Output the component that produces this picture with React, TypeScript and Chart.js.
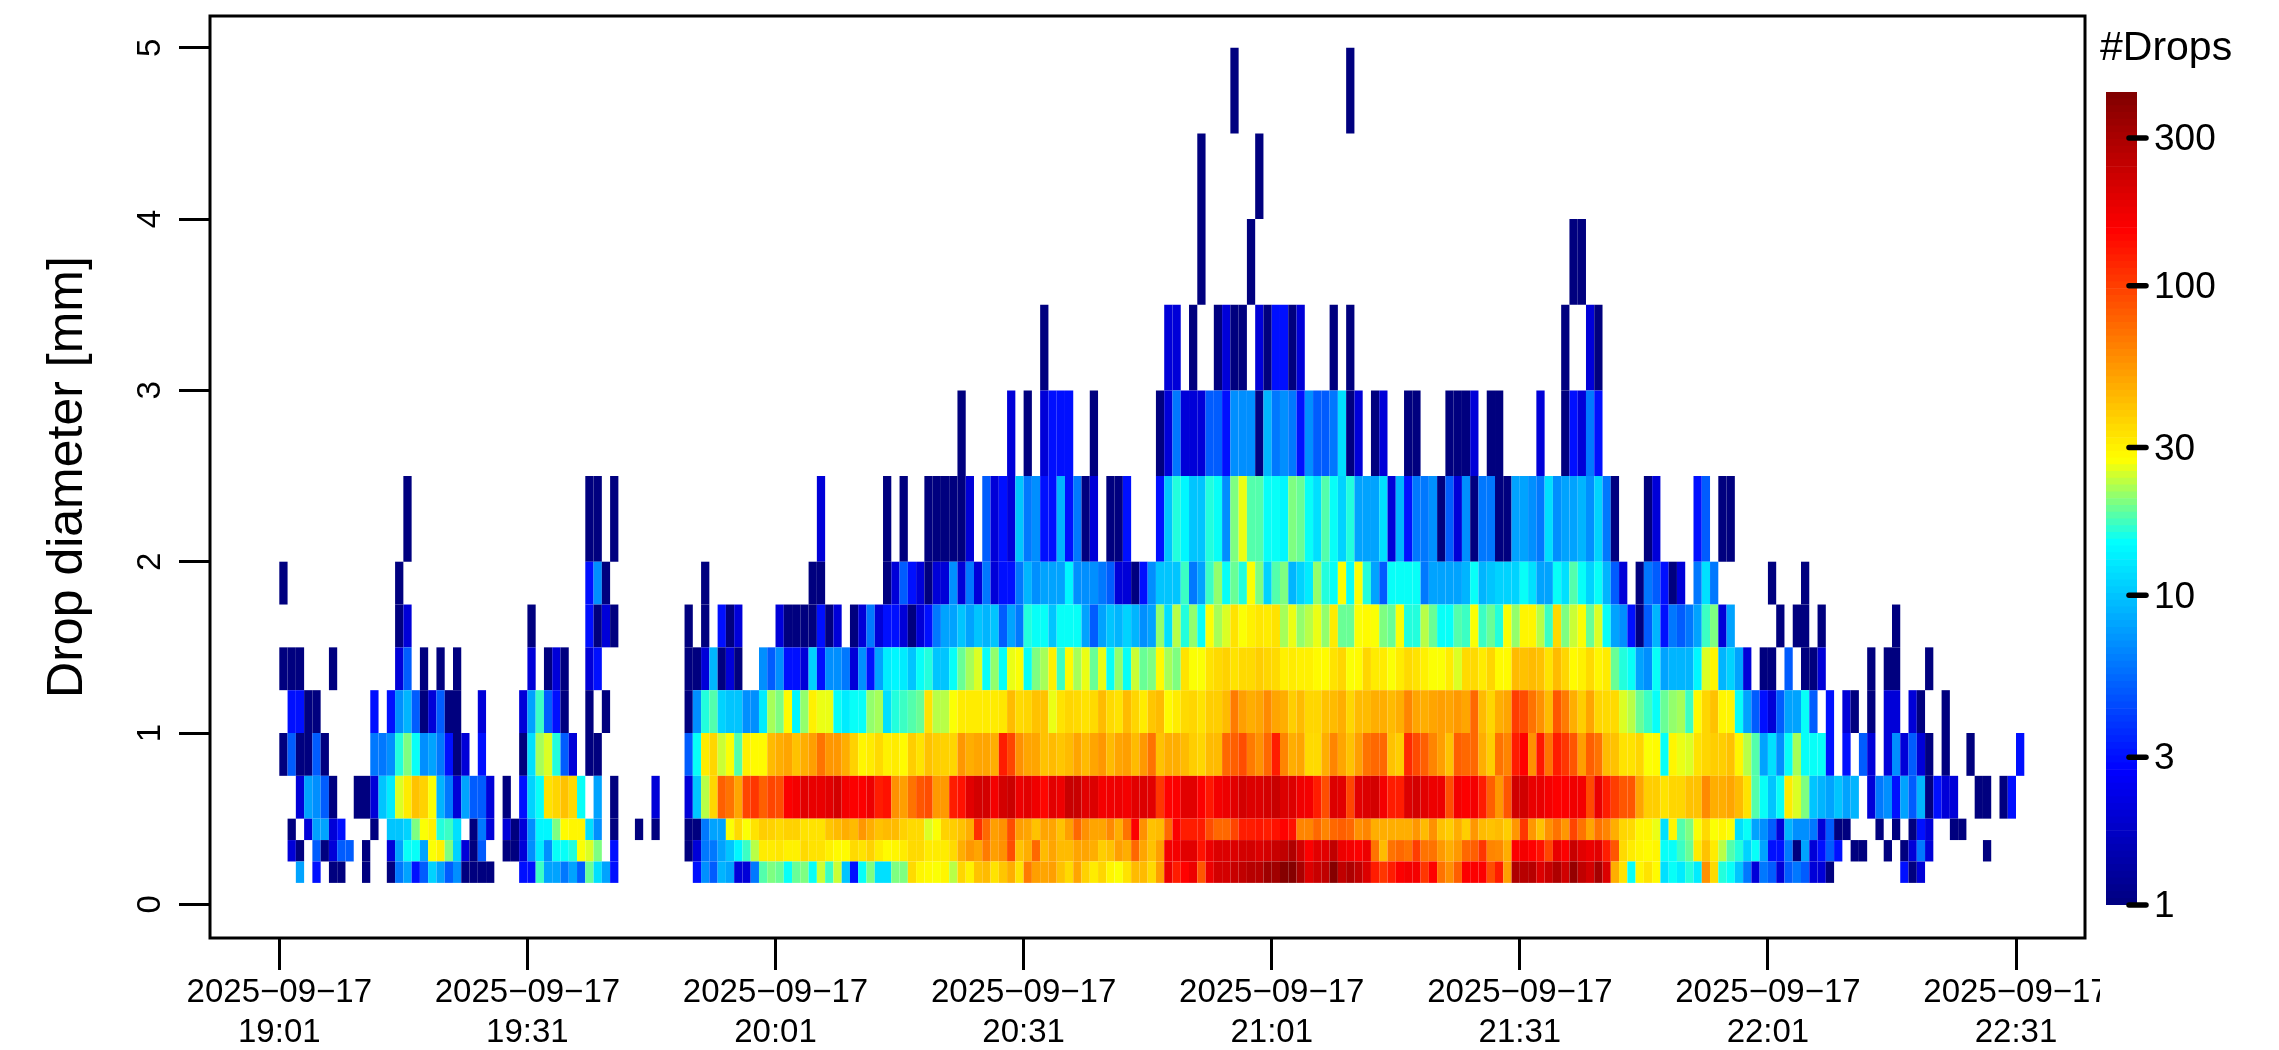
import React, { useEffect, useRef } from "react";
import { Chart, registerables } from "chart.js";

Chart.register(...registerables);

// Each run is [first minute index after 19:01, count, count, ...]
const d0125 = [[2,8],[4,3],[6,1,1],[10,1],[13,1,6,8,3,5,11,8,5,7,1,1,1,1],[29,3,3,17,8,8,6,8,5,19,12,8,3],
  [50,3,7,5,9,8,2,2,6,18,20,19,15,19,20,15,24,17,24,10,3,15,20,12,12,20,20,35,29,28,27,29,23,36,30,41,43,33,40,47,33,66,52,50,52,41,35,50,37,31],
  [99,36,29,27,33,43,43,35,52,175,125,150,175,85,175,215,215,235,250,270,270,330,320,400,400,300,200,235,250,400,250,290,250,200,125,105,125,155,165,165,105,150,70,58,80,155,155,155,90,125,52,290],
  [150,270,270,200,235,290,220,350,250,215,310,200,47,33,15,29,33,28,12,15,13,16,13],
  [172,57,35,16,15,10,6,2,6,5,2,5,6,5,2,2,1],[196,3,1,2]];
const d0250 = [[1,2,1],[4,5,1,2,5,5],[10,1],[13,2,8,15,15,8,27,30,20,11,2,1,5],[27,1,1,2,7,13,7,15,15,16,27,25,20],[40,3],
  [49,1,2,6,6,8,10,14,17,23,31,31,32,30,30,35,33,33,30,28,28,35,33,37,31,28,29,31,35,35,31,31,31,35,47,55,50,66,52,57,90,41,47,75,43,50,43,43,50,50,47],
  [99,38,41,52,47,75,50,41,52,165,165,190,190,135,175,200,200,200,215,215,200,215,235,250,285,215,155,190,190,250,175,165,155,175,70,43,70,75,70,100,70,70,54,47,54,75,80,105,62,60,47,155],
  [150,165,150,135,95,180,155,235,190,175,190,125,85,35,31,29,28,29,15,15,17,19,31],
  [172,41,31,23,18,16,11,15,8,3,3,6,1,8,2,3,5,3],[190,1,1],[194,1],[196,1,2,6,2],[206,1]];
const d0375 = [[1,1],[3,2,8,8,2,3],[11,1],[13,10,10,11,20,27,30,16,17,12],[23,1,6,2],[27,2,1,2,7,14,14,20,28,29,29,12,7],[40,1],[43,1],[45,1],
  [49,1,1,6,8,8,27,35,27,33,38,37,35,37,37,33,33,33,40,43,47,43,55,47,41,43,43,37,35,35,25,27,37,38,41,47,110,75,52,57,90,52,50,41,50,50,41,52,75,57,50],
  [99,50,60,47,70,155,57,41,43,75,155,125,125,125,90,75,75,95,125,125,130,125,135,150,135,62,62,75,62,75,80,75,57,62,47,47,47,47,47,55,43,57,41,38,47,38,55,43,41,43,38,55],
  [150,105,55,41,57,70,55,95,70,50,70,62,47,36,35,29,29,26,12,29,18,20,27],
  [172,35,27,29,27,12,15,8,7,5,2,9,7,7,6,2,5,1,1],[193,1],[195,1],[197,1,3,2],[202,1,1]];
const d0500 = [[2,2,8,7,5,1],[9,1,1,2,10,13,25,31,41,37,27,9,6,2,8,5,5,2],[27,1],[29,3,11,15,33,36,41,35,15],[38,8],[40,1],[45,2],
  [49,2,10,23,36,80,70,50,95,105,80,95,90,155,165,190,180,180,190,215,165,155,155,175,125,135,57,52,70,85,90,54,54,125,135,190,215,215,165,215,230,175,190,170,145,190,175,235,235,190,200],
  [99,165,170,175,165,190,200,190,105,150,155,190,190,155,130,165,175,190,215,200,200,215,235,200,200,170,165,125,90,200,190,95,190,200,215,165,125,125,200,215,190,175,175,90,165,155,165,125,80,55,85,220],
  [150,220,180,180,165,155,155,170,165,92,180,125,100,85,85,50,38,38,33,36,36,41,41],
  [172,60,47,47,50,43,33,18,15,10,15,31,25,20,10,9,8,10,8,9],[192,2,6,7,3,8,5,9,1,3,2,2],[205,1,1],[208,1,3]];
const d0750 = [[0,1,5,1,1,5,1],[11,6,6,7,16,20,15,7,8,6,3,1,2],[24,3],[29,1,12,22,25,16,5,2],[37,1,1],
  [49,5,15,31,36,24,27,18,30,28,28,43,47,50,41,47,52,70,55,55,47,37,29,31,35,30,31,28,38,33,41,38,37,36,55,47,50,50,47,125,95,57,50,50,41,43,40,43,50,43,50],
  [99,55,43,50,52,43,54,70,41,47,47,43,38,36,43,43,75,80,90,66,57,75,125,62,47,50,35,35,47,62,50,41,52,70,75,75,41,38,115,92,80,62,52,41,80,75,75,47,38,70,62,125],
  [150,150,57,130,70,125,105,85,52,80,70,43,41,33,33,36,27,28,15,29,26,25,33],
  [172,36,38,38,41,29,23,18,8,12,7,15,22,15,15,15,3],[189,3],[191,5,2],[194,2,7,2,5,2,1],[201,1],[204,1],[210,3]];
const d1000 = [[1,3,3,1,1],[11,3],[13,3,7,9,5,1,2,5,1,1],[24,2],[29,2,8,17,5,3,1],[37,1],[39,1],
  [49,1,7,16,18,11,10,10,7,7,13,22,20,28,14,21,30,26,26,15,13,15,15,21,22,12,16,17,18,19,33,23,23,27,31,31,31,31,31,32,43,35,36,41,41,26,33,36,35,33,35],
  [99,43,35,33,43,36,31,40,43,28,31,35,36,33,38,38,43,66,52,47,50,60,50,47,38,43,36,36,41,43,47,36,43,43,47,47,43,47,62,50,47,50,52,50,54,50,75,43,36,47,50,100],
  [150,90,70,57,43,85,66,47,38,50,36,35,35,25,23,19,17,15,19,21,22,17,28],
  [172,36,41,29,29,15,8,5,3,2,5,8,8,15,5],[187,3],[189,2,1],[192,1],[194,2,2],[197,2,1],[201,1]];
const d1250 = [[0,1,1,1],[6,1],[14,2,5],[17,1],[19,1],[21,1],[30,2],[32,1,2,1],[37,2,3],
  [49,1,1,2,9,1,2,1],
  [58,7,5,7,3,3,2,11,3,7,7,6,2,7,3,8,13,14,13,10,15,16,10,10,15,19,22,25,15,21,15,26,27,15,20,22,30,17,28,22,26,19],
  [99,26,15,21,15,24,19,20,28,22,20,33,27,27,33,35,37,33,35,35,38,36,35,30,31,30,30,28,28,33,36,27,28,36,31,31,27,31,35,33,30,27,27,31,25,35,35,31,36,28,28,43],
  [150,41,43,41,33,43,36,28,30,35,29,31,19,16,15,8,7,15,8,9,9,9,14],
  [172,25,29,9,11,8,2],[179,1,1],[182,5],[184,1,1,2],[192,1],[194,1,1],[199,1]];
const d1500 = [[14,1,2],[30,1],[37,3,1,2,1],[49,1],[51,1],[53,3,1,2],[60,2,1,1,1,1,3,1,2],
  [69,1,2,6,2,3,3,2,1,2,3,6,8,8,10,8,10,9,10,5,8,6,16,15,15,10,15,15,15,8,5],
  [99,8,10,9,11,9,7,8,21,12,23,16,21,15,27,22,25,33,27,30,32,31,33,22,26,21,23,26,21,31,19,19,27,28,27,20,19,27,16,16,23,19,15,15,18,17,27,17,19,16,27,21],
  [150,29,29,23,17,35,20,24,27,19,25,15,8,7,3,1,5,9,3,6,5,6,8],
  [172,17,20,2,8],[181,1],[183,1,1],[186,1],[195,1]];
const d1750 = [[0,1],[14,1],[37,3,7,1],[51,1],[64,1,1],
  [73,1,2,5,3,2,1,2,2,7,2,6,2,6,2,3,3,6,9,7,8,8,8,14,7,7,7],
  [99,6,5,2,2,1,3,7,10,10,10,17,6,8,17,21,15,19,16,27,20,11,18,20,9,11,13,21,16,15,27,15,27,16,8,5,15,15,15,15,6,8,8,8,8,9,15,9,10,11,11,11],
  [150,15,12,8,8,15,12,18,15,11,15,9,5,2],[164,1,6,5,3,1,2],[171,6,12,6],[180,1],[184,1]];
const d2000 = [[15,1],[37,1,1],[40,1],[65,2],[73,1],[75,1],[78,1,1,1,1,1,2],[85,5,2,3,2,10,6,7,3,3,9,3,6,1,2],[100,1,1,3],
  [106,3,10,16,14,10,10,16,15,7,20,26,18,18,15,15,14,20,19,15,12,18,15,11,16,8,8,8,12,2,9,3,6,6,7,1,5,2,7,1,6,6,1,1,8],
  [150,8,7,6,12,7,8,8,9,7,11,6,1],[165,1,2],[171,3,5],[174,1,1]];
const d2500 = [[82,1],[88,2],[90,1],[92,2,3,3,3],[98,1],
  [106,1,2,6,2,2,2,5,5,3,7,7,7,1,9,6,7,6,3,7,5,5,6,12,1,2],[132,1,2],[136,1,1],[141,1,1,1,2],[146,1,1],[152,2],[155,1,3,2,6,3]];
const d3000 = [[92,1],[107,2,2],[110,1],[113,1,2,1,1],[118,2,1,3,3,1,2],[127,1],[129,1],[155,1],[158,2,1]];
const d3500 = [[111,1],[117,1],[156,1,1]];
const d4000 = [[111,1],[118,1]];
const d4500 = [[115,1],[129,1]];

const binRuns = [d0125, d0250, d0375, d0500, d0750, d1000, d1250, d1500, d1750, d2000, d2500, d3000, d3500, d4000, d4500];
const binEdges = [0.125, 0.25, 0.375, 0.5, 0.75, 1, 1.25, 1.5, 1.75, 2, 2.5, 3, 3.5, 4, 4.5, 5];

const xTickMinutes = [0, 30, 60, 90, 120, 150, 180, 210];
const xTickDate = "2025\u221209\u221217";
const xTickTimes = ["19:01", "19:31", "20:01", "20:31", "21:01", "21:31", "22:01", "22:31"];
const yTicks = [0, 1, 2, 3, 4, 5];
const barTicks = [1, 3, 10, 30, 100, 300];
const maxDrops = 422;
const barTitle = "#Drops";

const FONT = "'Liberation Sans', Arial, sans-serif";
const stops: [number, number[]][] = [
  [0, [0, 0, 127]],
  [0.165, [0, 0, 255]],
  [0.445, [0, 255, 255]],
  [0.547, [255, 255, 0]],
  [0.83, [255, 0, 0]],
  [1, [127, 0, 0]],
];
function colorOf(v: number) {
  const f = Math.min(1, Math.max(0, Math.log10(v) / Math.log10(maxDrops)));
  for (let i = 1; i < stops.length; i++) {
    if (f <= stops[i][0]) {
      const [a, ca] = stops[i - 1];
      const [b, cb] = stops[i];
      const t = (f - a) / (b - a);
      const c = ca.map((q, k) => Math.round(q + (cb[k] - q) * t));
      return `rgb(${c[0]},${c[1]},${c[2]})`;
    }
  }
  return "rgb(127,0,0)";
}

const framePlugin = {
  id: "frame",
  afterDraw(chart: any) {
    const { ctx, chartArea: a } = chart;
    ctx.save();
    ctx.strokeStyle = "#000";
    ctx.lineWidth = 3;
    ctx.strokeRect(a.left, a.top, a.right - a.left, a.bottom - a.top);
    ctx.restore();
  },
};

const barTickPlugin = {
  id: "barTicks",
  afterDraw(chart: any) {
    const { ctx, chartArea: a, scales } = chart;
    ctx.save();
    ctx.strokeStyle = "#000";
    ctx.lineWidth = 5.5;
    ctx.lineCap = "round";
    for (const v of barTicks) {
      const y = scales.y.getPixelForValue(v);
      ctx.beginPath();
      ctx.moveTo(a.right - 8, y);
      ctx.lineTo(a.right + 9, y);
      ctx.stroke();
    }
    ctx.fillStyle = "#000";
    ctx.font = `41px ${FONT}`;
    ctx.textAlign = "left";
    ctx.textBaseline = "alphabetic";
    ctx.fillText(barTitle, 0, 60);
    ctx.restore();
  },
};

export default function App() {
  const mainRef = useRef<HTMLCanvasElement>(null);
  const barRef = useRef<HTMLCanvasElement>(null);

  useEffect(() => {
    const datasets = binRuns.map((runs, b) => {
      const data: any[] = [];
      for (const run of runs) {
        for (let k = 1; k < run.length; k++) {
          data.push({ x: run[0] + k - 1 + 0.5, y: [binEdges[b], binEdges[b + 1]], c: run[k] });
        }
      }
      return {
        data,
        grouped: false,
        barThickness: 8.27,
        inflateAmount: 0,
        borderWidth: 0,
        backgroundColor: (ctx: any) => colorOf(ctx.raw ? ctx.raw.c : 1),
      };
    });

    const main = new Chart(mainRef.current!, {
      type: "bar",
      data: { datasets } as any,
      plugins: [framePlugin],
      options: {
        responsive: false,
        animation: false,
        devicePixelRatio: 1,
        layout: { padding: { left: 0, top: 16, right: 15, bottom: 0 } },
        plugins: { legend: { display: false }, tooltip: { enabled: false } },
        scales: {
          x: {
            type: "linear",
            offset: false,
            min: -8.38,
            max: 218.34,
            afterBuildTicks: (s: any) => { s.ticks = xTickMinutes.map((value) => ({ value })); },
            afterFit: (s: any) => { s.height = 112; s.paddingLeft = 0; s.paddingRight = 0; },
            grid: { offset: false, drawOnChartArea: false, drawTicks: true, tickLength: 32, tickWidth: 3, tickColor: "#000" },
            border: { display: false },
            ticks: {
              autoSkip: false,
              maxRotation: 0,
              minRotation: 0,
              padding: 2,
              color: "#000",
              font: { family: FONT, size: 33, lineHeight: 1.24 },
              callback: (v: any) => [xTickDate, xTickTimes[xTickMinutes.indexOf(Number(v))]],
            },
          },
          y: {
            type: "linear",
            min: -0.1967,
            max: 5.1856,
            afterBuildTicks: (s: any) => { s.ticks = yTicks.map((value) => ({ value })); },
            afterFit: (s: any) => { s.width = 210; s.paddingTop = 0; s.paddingBottom = 0; },
            grid: { drawOnChartArea: false, drawTicks: true, tickLength: 31, tickWidth: 3, tickColor: "#000" },
            border: { display: false },
            title: {
              display: true,
              text: "Drop diameter [mm]",
              color: "#000",
              font: { family: FONT, size: 50 },
              padding: { top: 38, bottom: 0 },
            },
            ticks: {
              minRotation: 90,
              maxRotation: 90,
              crossAlign: "center",
              padding: 19,
              color: "#000",
              font: { family: FONT, size: 33 },
              callback: (v: any) => String(v),
            },
          },
        },
      } as any,
    });

    const levels = 120;
    const top = Math.log10(maxDrops);
    const barSets: any[] = [];
    for (let k = 0; k < levels; k++) {
      const lo = Math.pow(10, (k / levels) * top);
      const hi = Math.pow(10, ((k + 1) / levels) * top);
      barSets.push({
        data: [{ x: 0.5, y: [lo, hi] }],
        xAxisID: "x",
        yAxisID: "y",
        grouped: false,
        barThickness: 31,
        borderWidth: 0,
        backgroundColor: colorOf(Math.pow(10, ((k + 0.5) / levels) * top)),
      });
    }
    const bar = new Chart(barRef.current!, {
      type: "bar",
      data: { datasets: barSets } as any,
      plugins: [barTickPlugin],
      options: {
        responsive: false,
        animation: false,
        devicePixelRatio: 1,
        layout: { padding: { left: 0, top: 92, right: 0, bottom: 145 } },
        plugins: { legend: { display: false }, tooltip: { enabled: false } },
        scales: {
          x: { type: "linear", display: false, offset: false, min: 0, max: 1 },
          yLeft: {
            position: "left",
            display: true,
            afterFit: (s: any) => { s.width = 6; },
            grid: { display: false, drawTicks: false },
            border: { display: false },
            ticks: { display: false },
          },
          y: {
            type: "logarithmic",
            position: "right",
            min: 1,
            max: maxDrops,
            afterBuildTicks: (s: any) => { s.ticks = barTicks.map((value) => ({ value, major: false })); },
            afterFit: (s: any) => { s.width = 142; s.paddingTop = 0; s.paddingBottom = 0; },
            grid: { display: false, drawTicks: false },
            border: { display: false },
            ticks: {
              padding: 17,
              labelOffset: 2,
              color: "#000",
              autoSkip: false,
              font: { family: FONT, size: 37 },
              callback: (v: any) => String(v),
            },
          },
        },
      } as any,
    });

    return () => {
      main.destroy();
      bar.destroy();
    };
  }, []);

  return (
    <div style={{ position: "absolute", left: 0, top: 0, width: 2279, height: 1050, overflow: "hidden", background: "#fff" }}>
      <canvas ref={mainRef} width={2100} height={1050} style={{ position: "absolute", left: 0, top: 0, width: 2100, height: 1050 }} />
      <canvas ref={barRef} width={179} height={1050} style={{ position: "absolute", left: 2100, top: 0, width: 179, height: 1050 }} />
    </div>
  );
}
